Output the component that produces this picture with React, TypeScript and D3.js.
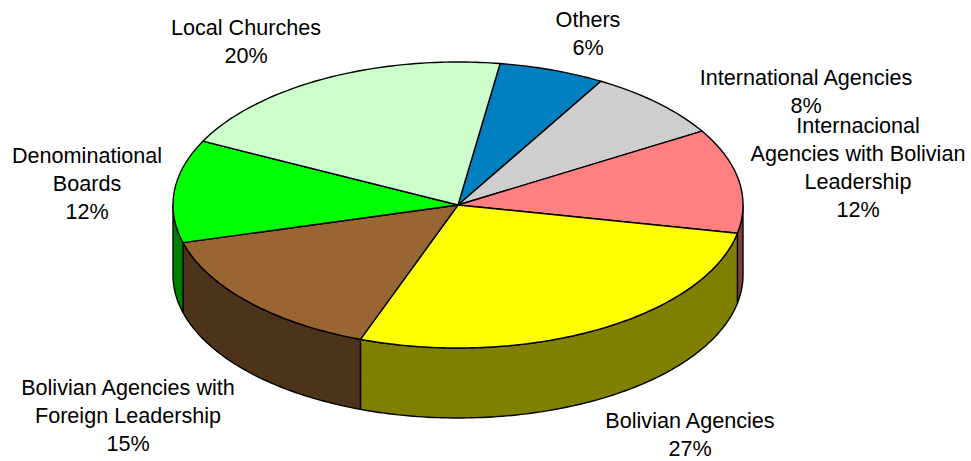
import React from 'react';
import * as d3 from 'd3';

const categories = ['Others', 'International Agencies', 'Internacional Agencies with Bolivian Leadership', 'Bolivian Agencies', 'Bolivian Agencies with Foreign Leadership', 'Denominational Boards', 'Local Churches'];
// they round to the printed percentages
const shares = [6, 8, 11.8, 27.4, 15.2, 11.6, 20];
const topColors = ['#0080c0', 'url(#dots)', '#ff8080', '#ffff00', '#996633', '#00ff00', '#ccffcc'];
const wallColors = ['#004060', '#666666', '#804040', '#808000', '#4d3319', '#008000', '#668066'];
// label lines + anchor point, one entry per category
const labelLines = [['Others', '6%'], ['International Agencies', '8%'], ['Internacional', 'Agencies with Bolivian', 'Leadership', '12%'], ['Bolivian Agencies', '27%'], ['Bolivian Agencies with', 'Foreign Leadership', '15%'], ['Denominational', 'Boards', '12%'], ['Local Churches', '20%']];
const labelX = [588, 806, 858, 690, 128, 87, 246];
const labelY = [27, 85, 133, 428, 395, 163, 35];

const width = 971;
const height = 461;
const cx = 458;
const cy = 205;
const rx = 285;
const ry = 143;
const depth = 70;
const startDeg = 8.5;
const lineGap = 28;
const fontSize = 21.6;

const pie = d3.pie<number>().sort(null)
  .startAngle((startDeg * Math.PI) / 180)
  .endAngle(((startDeg + 360) * Math.PI) / 180);

const px = (a: number) => cx + rx * Math.sin(a);
const py = (a: number) => cy - ry * Math.cos(a);

const edge = d3.line<[number, number]>();

const samples = (a0: number, a1: number) => {
  const n = Math.max(2, Math.ceil(((a1 - a0) * 180) / Math.PI));
  return d3.range(n + 1).map((i) => a0 + ((a1 - a0) * i) / n);
};

const topPath = (a0: number, a1: number) => {
  const pts = samples(a0, a1).map((a) => [px(a), py(a)] as [number, number]);
  return edge([[cx, cy], ...pts]) + 'Z';
};

const wallPath = (a0: number, a1: number) => {
  const upper = samples(a0, a1).map((a) => [px(a), py(a)] as [number, number]);
  const lower = upper.map(([x, y]) => [x, y + depth] as [number, number]).reverse();
  return edge([...upper, ...lower]) + 'Z';
};

const App = () => {
  const arcs = pie(shares);
  return (
    <svg width={width} height={height} style={{ position: 'absolute', left: 0, top: 0, background: '#fff' }}>
      <defs>
        <pattern id="dots" width="2" height="2" patternUnits="userSpaceOnUse">
          <rect width="2" height="2" fill="#d0d0d0" />
          <rect width="1" height="1" fill="#c8c8c8" />
        </pattern>
      </defs>
      {arcs.map((d, i) => {
        // only the front half of the rim (90deg to 270deg) can be seen
        const a0 = Math.max(d.startAngle, Math.PI / 2);
        const a1 = Math.min(d.endAngle, (3 * Math.PI) / 2);
        if (a1 <= a0) return null;
        return <path key={categories[i]} d={wallPath(a0, a1)} fill={wallColors[i]} stroke="#000" strokeWidth={1.4} strokeLinejoin="round" />;
      })}
      {arcs.map((d, i) => (
        <path key={categories[i]} d={topPath(d.startAngle, d.endAngle)} fill={topColors[i]} stroke="#000" strokeWidth={1.4} strokeLinejoin="round" />
      ))}
      <g fontFamily="'Liberation Sans', Arial, sans-serif" fontSize={fontSize} fill="#000" textAnchor="middle">
        {labelLines.map((lines, i) => (
          <text key={categories[i]} x={labelX[i]} y={labelY[i]}>
            {lines.map((t, j) => (
              <tspan key={j} x={labelX[i]} y={labelY[i] + j * lineGap}>{t}</tspan>
            ))}
          </text>
        ))}
      </g>
    </svg>
  );
};

export default App;
